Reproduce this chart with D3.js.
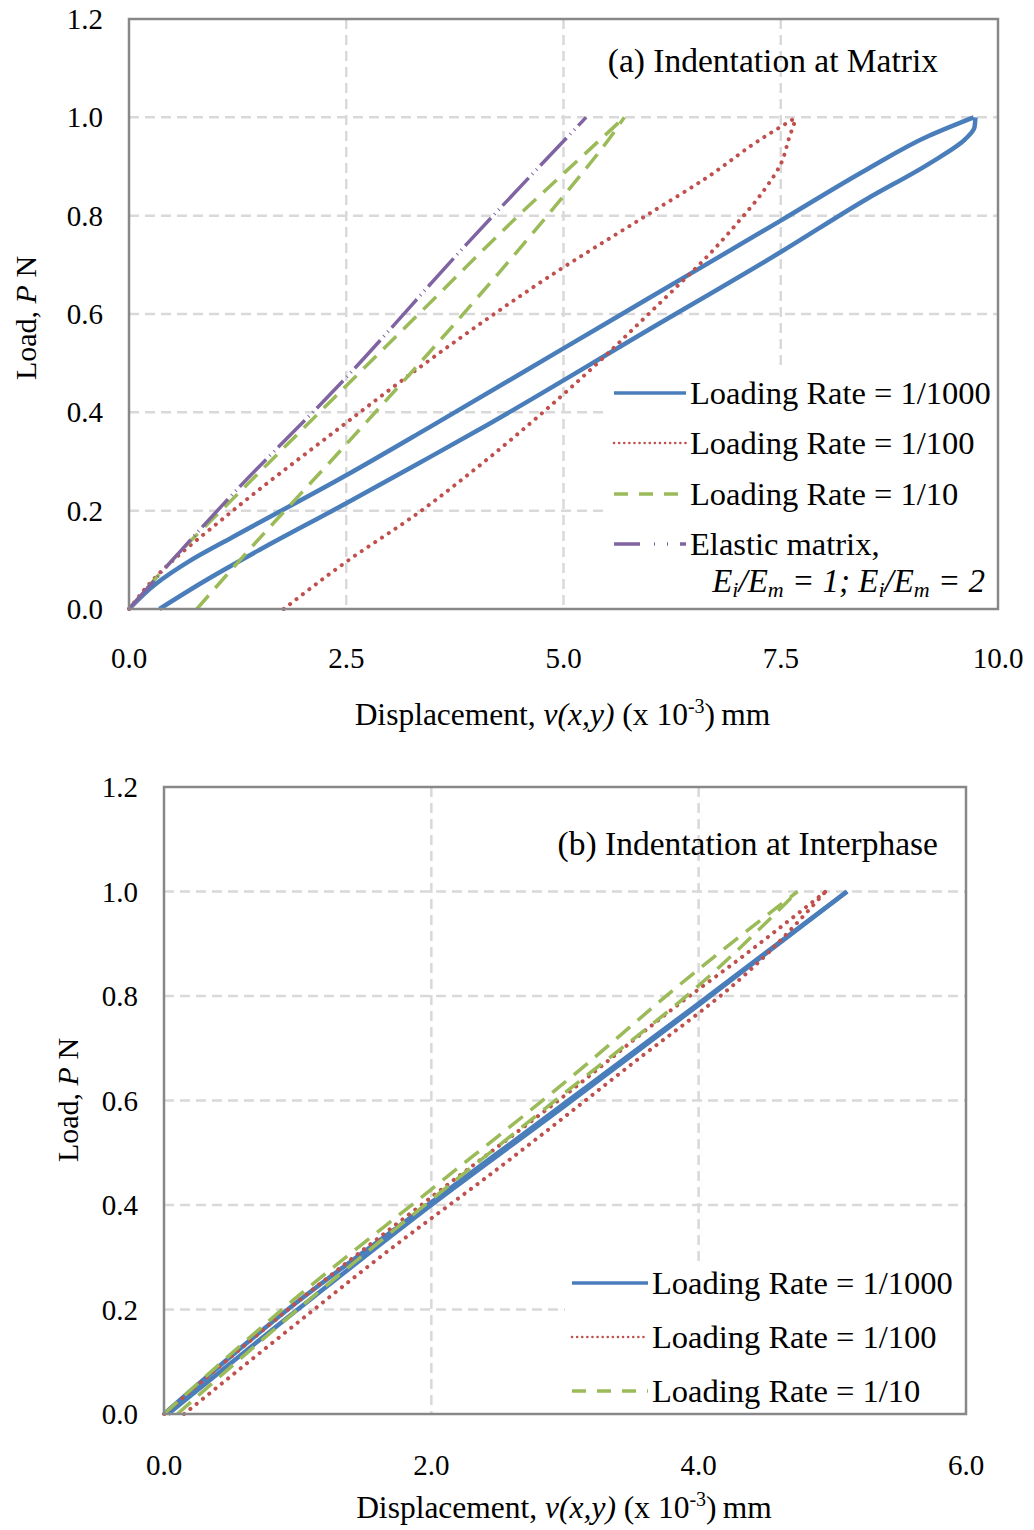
<!DOCTYPE html>
<html>
<head>
<meta charset="utf-8">
<script src="https://d3js.org/d3.v7.min.js"></script>
<style>
  body { margin: 0; background: #fff; }
  svg text { font-family: "Liberation Serif", "Times New Roman", serif; fill: #000; }
</style>
</head>
<body>
<script>
// ---- data: [displacement (x1e-3 mm), load P (N)] ----
var yTicks = [0, 0.2, 0.4, 0.6, 0.8, 1.0, 1.2];
var xTicksA = [0, 2.5, 5, 7.5, 10];
var xTicksB = [0, 2, 4, 6];

// (a) indentation at matrix
var aBlueLoad = [[0,0],[0.3,0.05],[0.7,0.098],[1.2,0.147],[2.5,0.272],[3.46,0.37],[5,0.53],[5.98,0.632],[7.5,0.79],[8.5,0.895],[9.2,0.962],[9.72,1.0]];
var aBlueUnload = [[9.74,1.0],[9.73,0.98],[9.62,0.955],[9.2,0.905],[8.5,0.835],[7.5,0.726],[5.98,0.568],[4.03,0.365],[3.34,0.297],[2.5,0.215],[1.5,0.12],[0.9,0.06],[0.35,0]];
var aRedLoad = [[0,0],[0.28,0.06],[1.16,0.195],[2.42,0.368],[3.15,0.466],[4.0,0.575],[4.8,0.672],[5.95,0.8],[6.67,0.88],[7.24,0.952],[7.68,1.0]];
var aRedUnload = [[7.68,1.0],[7.6,0.96],[7.5,0.905],[7.3,0.85],[7.0,0.785],[6.67,0.72],[6.3,0.655],[5.95,0.595],[5.3,0.485],[4.6,0.375],[3.95,0.28],[3.34,0.197],[2.5,0.096],[1.78,0]];
var aGreenLoad = [[0,0],[0.5,0.1],[1.2,0.225],[2.42,0.44],[3.42,0.615],[4.6,0.82],[5.15,0.91],[5.7,1.0]];
var aGreenUnload = [[5.7,1.0],[5.52,0.955],[5.06,0.853],[3.92,0.615],[2.5,0.335],[1.35,0.114],[0.78,0]];
var aElastic = [[0,0],[1.2,0.235],[2.42,0.456],[3.88,0.741],[5.26,1.0]];

// (b) indentation at interphase
var bBlueLoad = [[0,0],[0.94,0.203],[2.0,0.405],[3.0,0.595],[3.96,0.778],[5.11,1.0]];
var bBlueUnload = [[5.11,1.0],[4.0,0.783],[3.0,0.59],[2.0,0.4],[1.0,0.2],[0.03,0]];
var bRedLoad = [[0,0],[1.0,0.215],[2.0,0.415],[3.0,0.61],[3.88,0.79],[4.3,0.87],[4.95,1.0]];
var bRedUnload = [[4.95,1.0],[4.3,0.83],[3.5,0.67],[2.5,0.47],[1.64,0.305],[1.0,0.175],[0.15,0]];
var bGreenLoad = [[0,0],[1.0,0.225],[2.0,0.43],[3.0,0.635],[3.96,0.843],[4.74,1.0]];
var bGreenUnload = [[4.74,1.0],[4.0,0.82],[3.0,0.615],[2.0,0.41],[1.0,0.2],[0.1,0]];

var legendLabels = ["Loading Rate = 1/1000", "Loading Rate = 1/100", "Loading Rate = 1/10", "Elastic matrix,"];

// ---- styles ----
var styles = {
  blue:   { color: "#4a7ebb", width: 4.5, dash: null,              cap: "butt",  lwidth: 3.5, ldash: null },
  red:    { color: "#c0504d", width: 4,   dash: "0.1,8",           cap: "round", lwidth: 2.5, ldash: "0.1,5" },
  green:  { color: "#9bbb59", width: 3.5, dash: "18,10",           cap: "butt",  lwidth: 3.5, ldash: "14,11" },
  purple: { color: "#8064a2", width: 3.5, dash: "38,5,1,5,1,5",    cap: "butt",  lwidth: 3.5, ldash: "26,14,1,12,1,12" }
};

var W = 1034, H = 1530;
var svg = d3.select("body").append("svg").attr("width", W).attr("height", H);

function drawPanel(p) {
  var x = d3.scaleLinear().domain(p.xDomain).range([p.left, p.right]);
  var y = d3.scaleLinear().domain([0, 1.2]).range([p.bottom, p.top]);
  var g = svg.append("g");

  // grid
  g.selectAll(".hgrid").data(yTicks.slice(1, -1)).enter().append("line")
    .attr("x1", p.left).attr("x2", p.right)
    .attr("y1", function(d) { return y(d); }).attr("y2", function(d) { return y(d); })
    .attr("stroke", "#d9d9d9").attr("stroke-width", 2.5).attr("stroke-dasharray", "10,6");
  g.selectAll(".vgrid").data(p.xTicks.slice(1, -1)).enter().append("line")
    .attr("y1", p.top).attr("y2", p.bottom)
    .attr("x1", function(d) { return x(d); }).attr("x2", function(d) { return x(d); })
    .attr("stroke", "#d9d9d9").attr("stroke-width", 2.5).attr("stroke-dasharray", "10,6");

  var line = d3.line()
    .x(function(d) { return x(d[0]); })
    .y(function(d) { return y(d[1]); })
    .curve(d3.curveMonotoneY);

  p.series.forEach(function(s) {
    var st = styles[s.style];
    // sort by load so every branch is drawn bottom-up
    var pts = s.data.slice().sort(function(a, b) { return a[1] - b[1]; });
    g.append("path")
      .attr("d", line(pts))
      .attr("fill", "none")
      .attr("stroke", st.color)
      .attr("stroke-width", st.width)
      .attr("stroke-linecap", st.cap)
      .attr("stroke-linejoin", "round")
      .attr("stroke-dasharray", st.dash);
  });

  // legend box
  var lg = g.append("g");
  lg.append("rect")
    .attr("x", p.legend.x0).attr("y", p.legend.y0)
    .attr("width", p.right - p.legend.x0).attr("height", p.bottom - p.legend.y0)
    .attr("fill", "#fff");
  p.legend.items.forEach(function(it, i) {
    var st = styles[it];
    var ly = p.legend.rows[i];
    lg.append("line")
      .attr("x1", p.legend.lx1).attr("x2", p.legend.lx2)
      .attr("y1", ly).attr("y2", ly)
      .attr("stroke", st.color).attr("stroke-width", st.lwidth)
      .attr("stroke-linecap", st.cap)
      .attr("stroke-dasharray", st.ldash);
    lg.append("text")
      .attr("x", p.legend.tx).attr("y", ly + 11)
      .attr("font-size", 32.5)
      .text(legendLabels[i]);
  });

  // frame
  g.append("rect")
    .attr("x", p.left).attr("y", p.top)
    .attr("width", p.right - p.left).attr("height", p.bottom - p.top)
    .attr("fill", "none").attr("stroke", "#888").attr("stroke-width", 2.5);

  // tick labels
  g.selectAll(".ytl").data(yTicks).enter().append("text")
    .attr("x", p.left - 26)
    .attr("y", function(d) { return y(d) + 10; })
    .attr("text-anchor", "end").attr("font-size", 29)
    .text(function(d) { return d3.format(".1f")(d); });
  g.selectAll(".xtl").data(p.xTicks).enter().append("text")
    .attr("x", function(d) { return x(d); })
    .attr("y", p.xLabelY)
    .attr("text-anchor", "middle").attr("font-size", 29)
    .text(function(d) { return d3.format(".1f")(d); });

  // x axis title
  var xt = g.append("text")
    .attr("x", (p.left + p.right) / 2 - 1).attr("y", p.xTitleY)
    .attr("text-anchor", "middle").attr("font-size", 31.5);
  xt.append("tspan").text("Displacement, ");
  xt.append("tspan").attr("font-style", "italic").text("v(x,y)");
  xt.append("tspan").text(" (x 10");
  xt.append("tspan").attr("font-size", 20).attr("dy", -12).text("-3");
  xt.append("tspan").attr("dy", 12).text(")\u2009mm");

  // y axis title
  var yt = g.append("text")
    .attr("transform", "translate(" + (p.yTitleX) + "," + p.yTitleCY + ") rotate(-90)")
    .attr("text-anchor", "middle").attr("font-size", 30);
  yt.append("tspan").text("Load, ");
  yt.append("tspan").attr("font-style", "italic").text("P");
  yt.append("tspan").text(" N");

  // panel title
  g.append("text")
    .attr("x", 938).attr("y", p.titleY)
    .attr("text-anchor", "end").attr("font-size", 33.5)
    .text(p.title);

  return { x: x, y: y, g: g };
}

var pa = drawPanel({
  left: 129, right: 998, top: 19, bottom: 609,
  xDomain: [0, 10], xTicks: xTicksA,
  xLabelY: 668, xTitleY: 725, yTitleX: 36, yTitleCY: 318,
  title: "(a) Indentation at Matrix", titleY: 72,
  series: [
    { data: aBlueLoad, style: "blue" }, { data: aBlueUnload, style: "blue" },
    { data: aRedLoad, style: "red" }, { data: aRedUnload, style: "red" },
    { data: aGreenLoad, style: "green" }, { data: aGreenUnload, style: "green" },
    { data: aElastic, style: "purple" }
  ],
  legend: { x0: 604, y0: 370, lx1: 614, lx2: 686, tx: 690,
            rows: [393, 443, 494, 544],
            items: ["blue", "red", "green", "purple"] }
});

// second legend line for the elastic entry
var el = pa.g.append("text").attr("x", 985).attr("y", 592)
  .attr("text-anchor", "end").attr("font-size", 33).attr("font-style", "italic");
el.append("tspan").text("E");
el.append("tspan").attr("font-size", 22).attr("dy", 5).text("i");
el.append("tspan").attr("dy", -5).text("/E");
el.append("tspan").attr("font-size", 22).attr("dy", 5).text("m");
el.append("tspan").attr("dy", -5).text(" = 1; E");
el.append("tspan").attr("font-size", 22).attr("dy", 5).text("i");
el.append("tspan").attr("dy", -5).text("/E");
el.append("tspan").attr("font-size", 22).attr("dy", 5).text("m");
el.append("tspan").attr("dy", -5).text(" = 2");

drawPanel({
  left: 164, right: 966, top: 787, bottom: 1414,
  xDomain: [0, 6], xTicks: xTicksB,
  xLabelY: 1475, xTitleY: 1518, yTitleX: 78, yTitleCY: 1100,
  title: "(b) Indentation at Interphase", titleY: 855,
  series: [
    { data: bBlueLoad, style: "blue" }, { data: bBlueUnload, style: "blue" },
    { data: bRedLoad, style: "red" }, { data: bRedUnload, style: "red" },
    { data: bGreenLoad, style: "green" }, { data: bGreenUnload, style: "green" }
  ],
  legend: { x0: 565, y0: 1262, lx1: 572, lx2: 648, tx: 652,
            rows: [1283, 1337, 1391],
            items: ["blue", "red", "green"] }
});
</script>
</body>
</html>
